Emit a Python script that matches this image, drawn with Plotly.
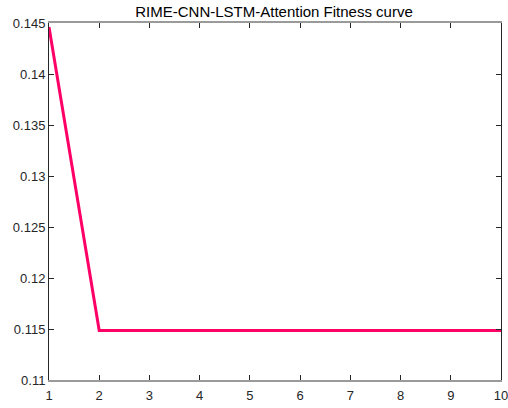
import plotly.graph_objects as go

iterations = [1, 2, 3, 4, 5, 6, 7, 8, 9, 10]
fitness = [0.1446, 0.11485, 0.11485, 0.11485, 0.11485, 0.11485, 0.11485, 0.11485, 0.11485, 0.11485]
x_ticks = [1, 2, 3, 4, 5, 6, 7, 8, 9, 10]
y_ticks = [0.11, 0.115, 0.12, 0.125, 0.13, 0.135, 0.14, 0.145]
y_labels = ["0.11", "0.115", "0.12", "0.125", "0.13", "0.135", "0.14", "0.145"]

font = dict(family="Liberation Sans, Arial, sans-serif", size=13, color="#262626")

fig = go.Figure()
fig.add_trace(go.Scatter(x=iterations, y=fitness, mode="lines",
                         line=dict(color="#FF0066", width=3), showlegend=False))

fig.update_layout(
    width=508, height=408,
    margin=dict(l=49, r=7, t=23, b=28, autoexpand=False),
    paper_bgcolor="white", plot_bgcolor="white",
    font=font,
    title=dict(text="RIME-CNN-LSTM-Attention Fitness curve", x=274/508, xanchor="center",
               y=1 - 12/408, yanchor="middle",
               font=dict(family="Liberation Sans, Arial, sans-serif", size=15, color="#000000")),
    xaxis=dict(range=[1, 10], tickvals=x_ticks, showgrid=False, zeroline=False,
               showline=True, linecolor="#9a9a9a", linewidth=1.5, mirror="ticks",
               ticks="inside", ticklen=5, tickcolor="#262626", tickwidth=1,
               tickfont=font, automargin=False, ticklabeloverflow="allow",
               ticklabelstandoff=3),
    yaxis=dict(range=[0.11, 0.145], tickvals=y_ticks, ticktext=y_labels,
               showgrid=False, zeroline=False,
               showline=True, linecolor="#262626", linewidth=1, mirror="ticks",
               ticks="inside", ticklen=5, tickcolor="#262626", tickwidth=1,
               tickfont=font, automargin=False, ticklabeloverflow="allow"),
)
fig.write_html("out.html", config={"displayModeBar": False},
               post_script="document.body.style.margin='0';document.body.style.overflow='hidden';")
